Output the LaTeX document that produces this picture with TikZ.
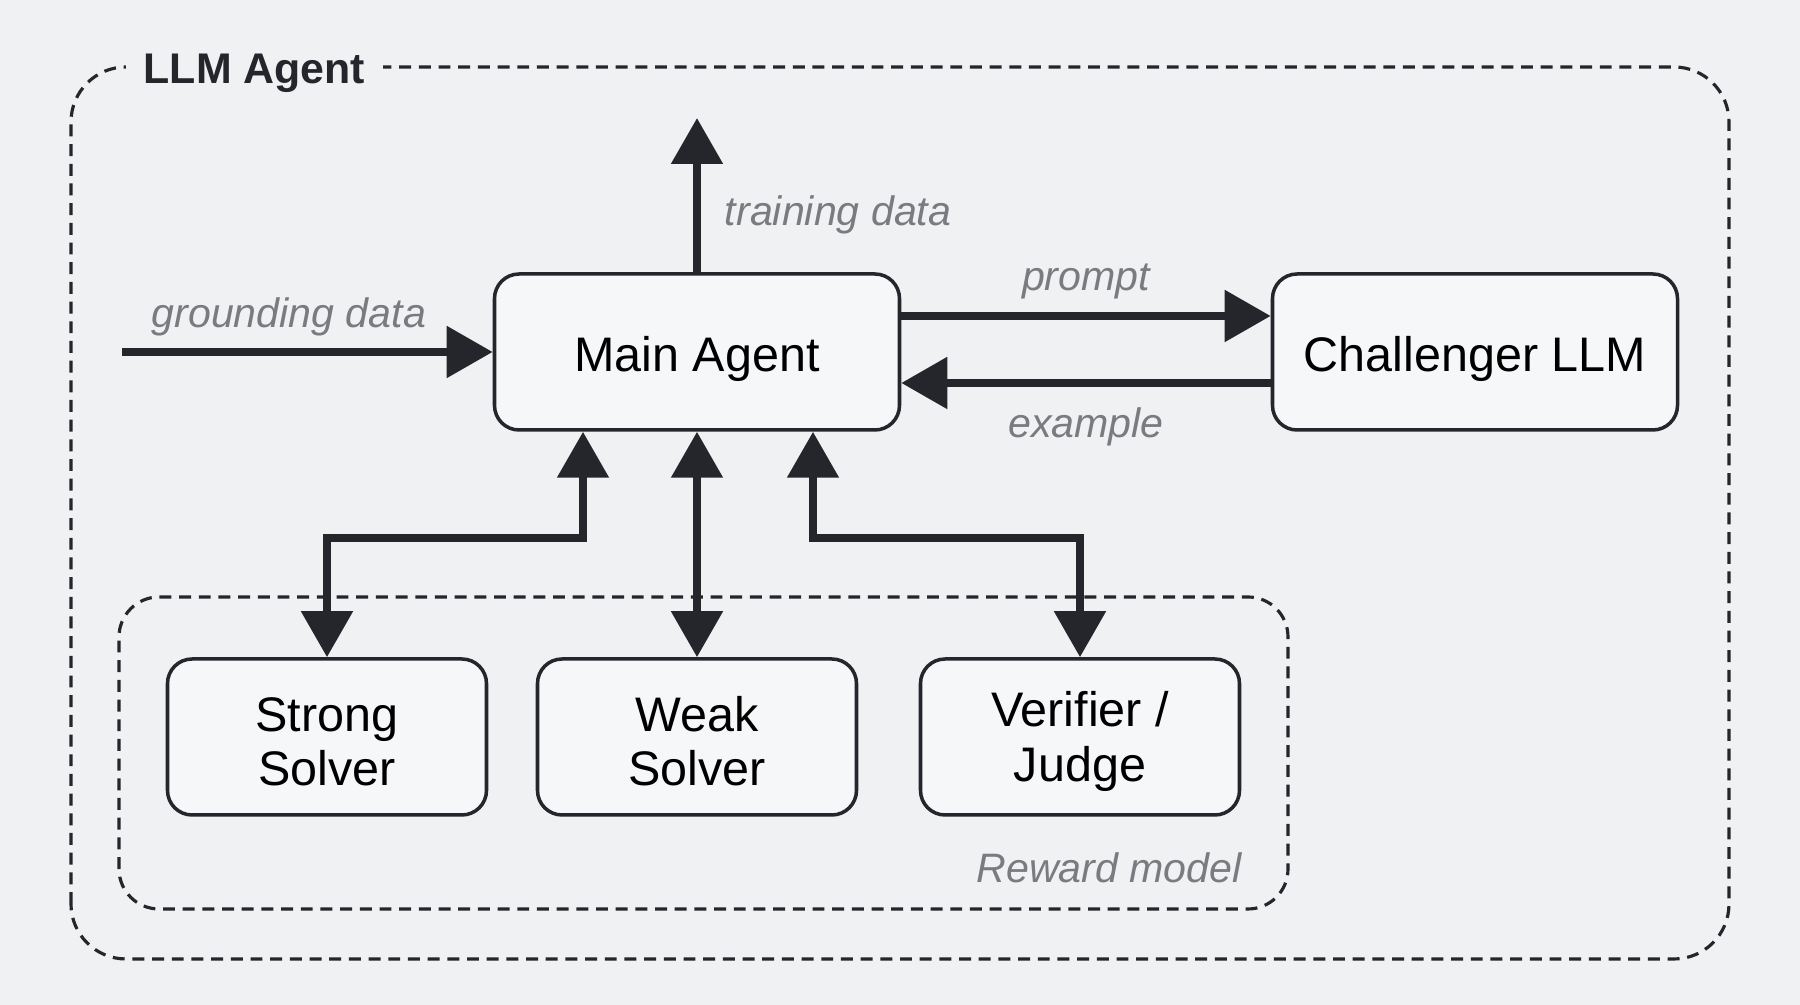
\documentclass[tikz,border=0pt]{standalone}
\usepackage{fontspec}
\setmainfont{Liberation Sans}
\usetikzlibrary{arrows.meta}
\definecolor{bgcol}{HTML}{F0F1F3}
\definecolor{boxfill}{HTML}{F6F7F9}
\definecolor{ink}{HTML}{24262C}
\definecolor{labgray}{HTML}{7A7B80}
\tikzset{
  agentbox/.style={draw=ink, line width=1pt, fill=boxfill, rounded corners=7pt,
    minimum height=1.56cm, align=center, text=black,
    font=\fontsize{13.8}{15.5}\selectfont,
    execute at begin node={\rule{0pt}{1em}}},
  solverbox/.style={agentbox, minimum width=3.19cm,
    execute at begin node={\rule{0pt}{28pt}}},
  flow/.style={draw=ink, line width=2.4pt, -{Triangle[length=0.46cm,width=0.5cm]}},
  flowboth/.style={flow, {Triangle[length=0.46cm,width=0.5cm]}-{Triangle[length=0.46cm,width=0.5cm]}},
  flowlabel/.style={text=labgray, font=\fontsize{11.7}{14}\selectfont\itshape},
  groupframe/.style={draw=ink, line width=0.9pt, dash pattern=on 3.4pt off 2.2pt}
}
\begin{document}
\begin{tikzpicture}[]
            \useasboundingbox (0,0) rectangle (18,10.05);
            \fill [bgcol] (0,0) rectangle (18,10.05);
            % The dashed frames: whole agent and reward model
            \draw [groupframe, rounded corners=0.55cm] (0.71,0.46) rectangle (17.29,9.38);
            \node [fill=bgcol, inner xsep=0.18cm, anchor=west, text=ink, yshift=-0.06cm,
              font=\bfseries\fontsize{12.2}{14}\selectfont] (title) at (1.25,9.38) {LLM Agent};
            \draw [groupframe, rounded corners=0.4cm] (1.19,0.96) rectangle (12.88,4.08);
            \node [flowlabel, anchor=east] (rmlabel) at (12.54,1.37) {Reward model};

            % Main agent and challenger
            \node [agentbox, minimum width=4.05cm] (main) at (6.97,6.53) {Main Agent};
            \node [agentbox, minimum width=4.05cm] (chal) at (14.75,6.53) {Challenger LLM};
            % The three boxes of the reward model
            \foreach \nm/\x/\txt in {
              strong/3.27/{Strong\\Solver},
              weak/6.97/{Weak\\Solver},
              verif/10.80/{Verifier /\\Judge}} {
              \node [solverbox] (\nm) at (\x,2.68) {\txt};
            }

            % Data in and out
            \coordinate (in) at (1.22,6.53);
            \coordinate (out) at (6.97,8.87);
            \draw [flow] (in) -- (main) node [flowlabel, pos=0.45, above=0cm] {grounding data};
            \draw [flow] (main) -- (out) node [flowlabel, pos=0.37, right=0.12cm] {training data};
            \draw [flow] ([yshift=0.36cm]main.east) -- ([yshift=0.36cm]chal.west)
              node [flowlabel, midway, above=0.01cm] {prompt};
            \draw [flow] ([yshift=-0.31cm]chal.west) -- ([yshift=-0.31cm]main.east)
              node [flowlabel, midway, below=0.09cm] {example};

            % Main agent to the reward model
            \draw [flowboth] ([xshift=-1.14cm]main.south) -- ++(0,-1.06) -| (strong.north);
            \draw [flowboth] (main.south) -- (weak.north);
            \draw [flowboth] ([xshift=1.16cm]main.south) -- ++(0,-1.06) -| (verif.north);
        \end{tikzpicture}
\end{document}
